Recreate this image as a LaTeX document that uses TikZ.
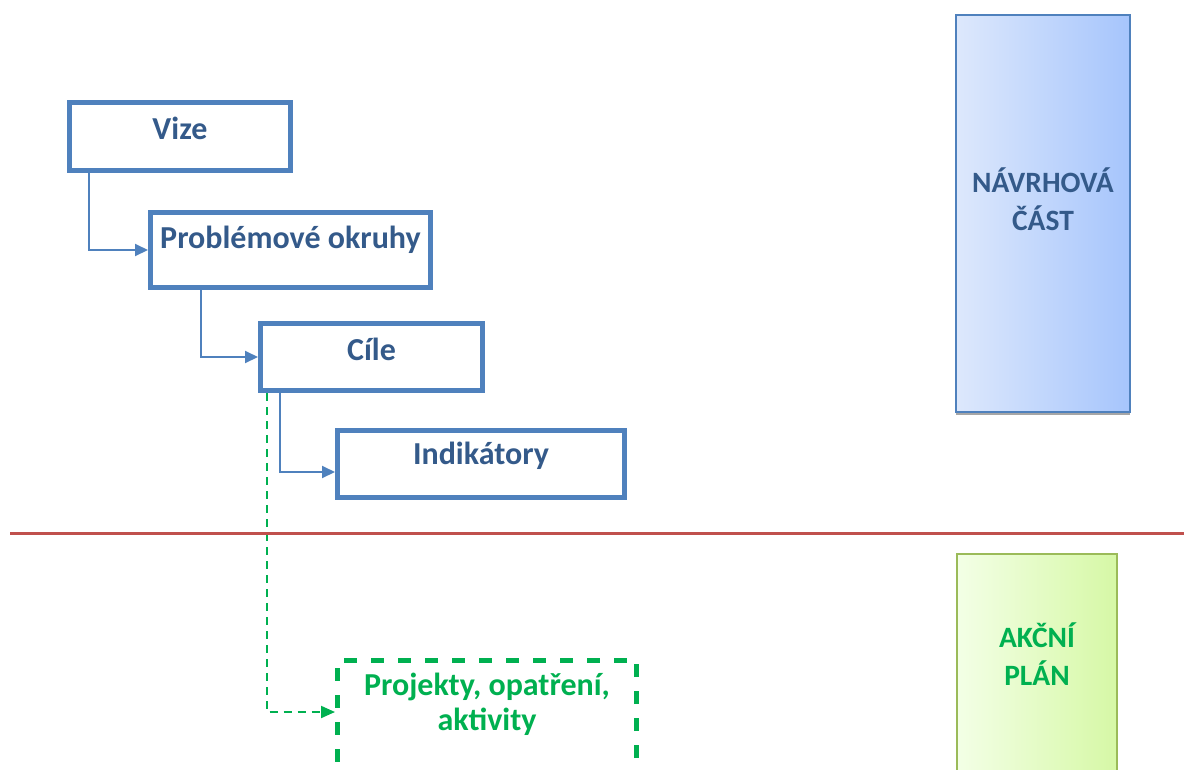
\documentclass[tikz,border=0pt]{standalone}
\usepackage{fontspec}
\setmainfont{Carlito}
\usetikzlibrary{arrows.meta,shadows}
\definecolor{boxblue}{HTML}{4F81BD}
\definecolor{txtblue}{HTML}{345A8A}
\definecolor{grn}{HTML}{00B050}
\definecolor{redline}{HTML}{C0504D}
\definecolor{navl}{HTML}{DDE8FC}
\definecolor{navr}{HTML}{A6C5FC}
\definecolor{akl}{HTML}{F3FFE6}
\definecolor{akr}{HTML}{D6F8A6}
\definecolor{akborder}{HTML}{9BBB59}
\begin{document}
\begin{tikzpicture}[x=1pt,y=-1pt,
  bbox/.style={draw=boxblue,line width=5pt,minimum width=#1,inner sep=0pt},
  lbl/.style={font=\fontsize{32}{36}\selectfont\bfseries,text=txtblue,inner sep=0pt},
  conn/.style={draw=boxblue,line width=2pt,-{Triangle[length=13pt,width=12pt]}},
  gconn/.style={draw=grn,line width=2pt,dash pattern=on 8pt off 6pt,-{Triangle[length=14pt,width=12pt]}},
  side/.style={font=\fontsize{29.5}{38}\selectfont\bfseries,align=center,inner sep=0pt}]
\useasboundingbox (0,0) rectangle (1184,769);
% boxes
\node[bbox=221pt,minimum height=68pt] (vize) at (180,136.5) {};
\node[lbl] (tvize) at (180,128) {Vize};
\node[bbox=280pt,minimum height=75pt] (prob) at (290.5,250) {};
\node[lbl] (tprob) at (290.5,240) {Problémové okruhy};
\node[bbox=222pt,minimum height=67pt] (cile) at (371.5,357) {};
\node[lbl] (tcile) at (371.5,349) {Cíle};
\node[bbox=287pt,minimum height=67pt] (ind) at (481,464) {};
\node[lbl] (tind) at (481,456) {Indikátory};
\node[draw=grn,line width=5pt,dash pattern=on 13pt off 14pt,minimum width=299pt,minimum height=150pt,inner sep=0pt] (proj) at (487,735) {};
\node[lbl,text=grn,align=center,font=\fontsize{32}{35}\selectfont\bfseries] (tproj) at (487,704.5) {Projekty, opatření,\\aktivity};
% connectors
\draw[conn] ([xshift=21.5pt]vize.south west) |- (prob.west);
\draw[conn] ([xshift=52.5pt]prob.south west) |- (cile.west);
\draw[conn] ([xshift=21.5pt]cile.south west) |- ([yshift=-8pt]ind.west);
\coordinate (pin) at (proj.west |- 0,712);
\draw[gconn] ([xshift=8.5pt]cile.south west) |- (pin);
% red separator
\coordinate (r1) at (10,533);
\coordinate (r2) at (1184,533);
\draw[redline,line width=3pt] (r1) -- (r2);
% side boxes
\node[draw=boxblue,line width=1.5pt,left color=navl,right color=navr,
  minimum width=174pt,minimum height=397pt,inner sep=0pt,
  drop shadow={shadow xshift=0pt,shadow yshift=-3pt,fill=gray!70,opacity=1}] (nav) at (1043,213.5) {};
\node[side,text=txtblue] (tnav) at (1043,199) {NÁVRHOVÁ\\ČÁST};
\node[draw=akborder,line width=2pt,left color=akl,right color=akr,
  minimum width=160pt,minimum height=246pt,inner sep=0pt] (akc) at (1037,677) {};
\node[side,text=grn] (takc) at (1037,654.5) {AKČNÍ\\PLÁN};
\end{tikzpicture}
\end{document}
